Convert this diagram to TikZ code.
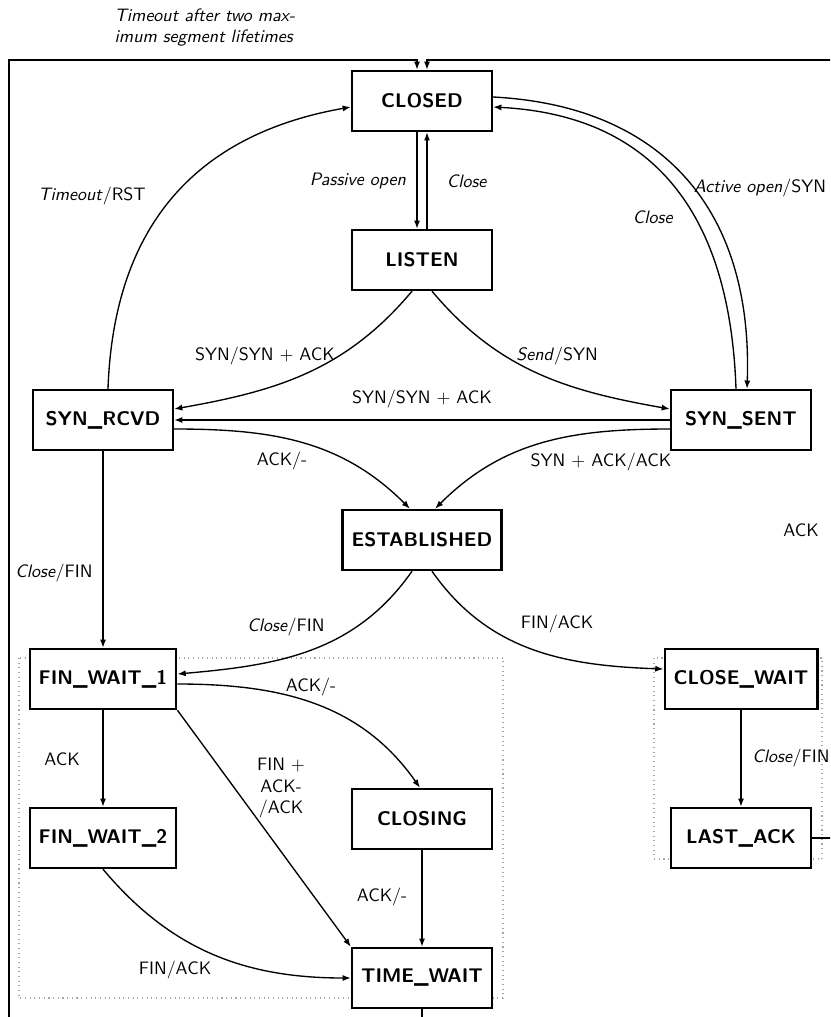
\documentclass[tikz,border=0pt]{standalone}
\usetikzlibrary{arrows.meta,calc}
\begin{document}
\begin{tikzpicture}[x=0.556pt,y=0.556pt,
  state/.style={draw,fill=white,line width=1.3pt,rectangle,minimum width=77.8pt,minimum height=33.4pt,inner sep=5pt,font=\sffamily\fontsize{11}{13}\selectfont\bfseries},
  lbl/.style={font=\sffamily\fontsize{10}{12}\selectfont,inner sep=0pt,align=center},
  edge/.style={line width=0.75pt,-{Latex[length=4.6pt,width=3.4pt]}},
  group/.style={draw=gray!70,dotted,line width=0.6pt}]
\useasboundingbox (0,0) rectangle (830,-1017);
\clip (0,0) rectangle (830,-1017);
% groups
\draw[group] (19,-658) rectangle (503,-998);
\draw[group] (654,-658) rectangle (822,-859);
% states
\node[state] (closed) at (422,-101) {CLOSED};
\node[state] (listen) at (422,-260) {LISTEN};
\node[state] (synrcvd) at (103,-420) {SYN\_RCVD};
\node[state] (synsent) at (741,-420) {SYN\_SENT};
\node[state] (estab) at (422,-540) {ESTABLISHED};
\node[state] (fw1) at (103,-679) {FIN\_WAIT\_1};
\node[state] (fw2) at (103,-838) {FIN\_WAIT\_2};
\node[state] (closing) at (422,-819) {CLOSING};
\node[state] (tw) at (422,-978) {TIME\_WAIT};
\node[state] (cw) at (741,-679) {CLOSE\_WAIT};
\node[state] (la) at (741,-838) {LAST\_ACK};
% off-page corners
\coordinate (twlow) at (422,-1040);
\coordinate (bl) at (9,-1040);
\coordinate (tl) at (9,-60);
\coordinate (br) at (845,-838);
\coordinate (tr) at (845,-60);
% transitions
\draw[edge] ($(closed.south)+(-5,0)$) -- ($(listen.north)+(-5,0)$)
  node[lbl] (lpassive) at (358,-181) {\textit{Passive open}};
\draw[edge] ($(listen.north)+(5,0)$) -- ($(closed.south)+(5,0)$)
  node[lbl] (lclose1) at (467,-181) {\textit{Close}};
\draw[edge] ($(closed.east)+(0,4)$) to[out=-3,in=88,looseness=1.15] ($(synsent.north)+(6,0)$)
  node[lbl] (lactive) at (760,-188) {\textit{Active open}/SYN};
\draw[edge] ($(synsent.north)+(-5,0)$) to[out=92,in=-3,looseness=1.15] ($(closed.east)+(0,-6)$)
  node[lbl] (lclose2) at (653,-217) {\textit{Close}};
\draw[edge] ($(synrcvd.north)+(5,0)$) to[out=88,in=190,looseness=1.1] ($(closed.west)+(0,-6)$)
  node[lbl] (ltimeout) at (92,-196) {\textit{Timeout}/RST};
\draw[edge] ($(listen.south)+(-10,0)$) to[out=230,in=10] ($(synrcvd.east)+(0,11)$)
  node[lbl] (lsyn1) at (265,-356) {SYN/SYN $+$ ACK};
\draw[edge] ($(listen.south)+(10,0)$) to[out=-50,in=170] ($(synsent.west)+(0,11)$)
  node[lbl] (lsend) at (557,-356) {\textit{Send}/SYN};
\draw[edge] (synsent.west) -- (synrcvd.east)
  node[lbl] (lsyn2) at (422,-399) {SYN/SYN $+$ ACK};
\draw[edge] ($(synrcvd.east)+(0,-9)$) to[out=0,in=135] ($(estab.north)+(-12,0)$)
  node[lbl] (lack1) at (282,-461) {ACK/-};
\draw[edge] ($(synsent.west)+(0,-9)$) to[out=180,in=45] ($(estab.north)+(13,0)$)
  node[lbl] (lsynack) at (601,-462) {SYN $+$ ACK/ACK};
\draw[edge] (synrcvd) -- (fw1)
  node[lbl] (lclose3) at (54,-573) {\textit{Close}/FIN};
\draw[edge] ($(estab.south)+(-10,0)$) to[out=235,in=5] ($(fw1.east)+(0,5)$)
  node[lbl] (lclose4) at (286,-627) {\textit{Close}/FIN};
\draw[edge] ($(estab.south)+(10,0)$) to[out=-55,in=178] ($(cw.west)+(0,10)$)
  node[lbl] (lfin1) at (557,-624) {FIN/ACK};
\draw[edge] (fw1) -- (fw2)
  node[lbl] (lack2) at (62,-759) {ACK};
\draw[edge] ($(fw1.east)+(0,-5)$) to[out=0,in=125] ($(closing.north)+(-2,0)$)
  node[lbl] (lack3) at (311,-687) {ACK/-};
\draw[edge] (fw1.south east) -- (tw.north west)
  node[lbl] (lfinack) at (281,-788) {FIN $+$\\ACK-\\/ACK};
\draw[edge] (fw2.south) to[out=-50,in=180] (tw.west)
  node[lbl] (lfin2) at (175,-970) {FIN/ACK};
\draw[edge] (closing) -- (tw)
  node[lbl] (lack4) at (382,-897) {ACK/-};
\draw[edge] (cw) -- (la)
  node[lbl] (lclose5) at (791,-758) {\textit{Close}/FIN};
\draw[edge] (tw.south) -- (twlow) -- (bl) -- (tl) -| ($(closed.north)+(-5,0)$)
  node[lbl,font=\sffamily\itshape\fontsize{10}{11.7}\selectfont,anchor=north west,align=left] (ltw) at (114,-8)
  {Timeout after two max-\\imum segment lifetimes};
\draw[edge] (la.east) -- (br) -- (tr) -| ($(closed.north)+(5,0)$)
  node[lbl] (lack5) at (801,-530) {ACK};
\end{tikzpicture}
\end{document}
